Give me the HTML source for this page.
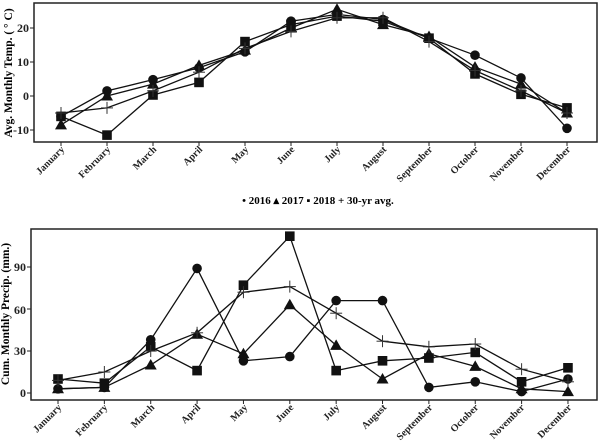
<!DOCTYPE html>
<html><head><meta charset="utf-8"><style>
html,body{margin:0;padding:0;background:#fff;}
svg{display:block;font-family:"Liberation Serif",serif;font-weight:bold;}
</style></head><body>
<svg id="s" width="600" height="447" viewBox="0 0 600 447" xmlns="http://www.w3.org/2000/svg">
<rect x="34" y="3" width="563" height="139" fill="none" stroke="#222" stroke-width="1.5"/>
<rect x="31" y="229" width="566" height="171" fill="none" stroke="#222" stroke-width="1.5"/>
<g font-size="12" text-anchor="end" fill="#222">
<text x="29" y="32">20</text><text x="29" y="66">10</text><text x="29" y="100">0</text><text x="29" y="134">-10</text>
<text x="26" y="271">90</text><text x="26" y="314">60</text><text x="26" y="355">30</text><text x="26" y="397">0</text>
</g>
<text transform="translate(12,73) rotate(-90)" font-size="11.5" text-anchor="middle">Avg. Monthly Temp. ( ° C)</text>
<text transform="translate(9,314) rotate(-90)" font-size="11.5" text-anchor="middle">Cum. Monthly Precip. (mm.)</text>
<g font-size="10" text-anchor="end" fill="#222">
<text transform="translate(65,150) rotate(-45)">January</text>
<text transform="translate(111,150) rotate(-45)">February</text>
<text transform="translate(157,150) rotate(-45)">March</text>
<text transform="translate(203,150) rotate(-45)">April</text>
<text transform="translate(249,150) rotate(-45)">May</text>
<text transform="translate(295,150) rotate(-45)">June</text>
<text transform="translate(341,150) rotate(-45)">July</text>
<text transform="translate(387,150) rotate(-45)">August</text>
<text transform="translate(433,150) rotate(-45)">September</text>
<text transform="translate(479,150) rotate(-45)">October</text>
<text transform="translate(525,150) rotate(-45)">November</text>
<text transform="translate(571,150) rotate(-45)">December</text>
<text transform="translate(62,408) rotate(-45)">January</text>
<text transform="translate(108,408) rotate(-45)">February</text>
<text transform="translate(155,408) rotate(-45)">March</text>
<text transform="translate(201,408) rotate(-45)">April</text>
<text transform="translate(248,408) rotate(-45)">May</text>
<text transform="translate(294,408) rotate(-45)">June</text>
<text transform="translate(340,408) rotate(-45)">July</text>
<text transform="translate(387,408) rotate(-45)">August</text>
<text transform="translate(433,408) rotate(-45)">September</text>
<text transform="translate(479,408) rotate(-45)">October</text>
<text transform="translate(525,408) rotate(-45)">November</text>
<text transform="translate(572,408) rotate(-45)">December</text>
</g>
<text x="318" y="204" font-size="11" text-anchor="middle">• 2016 ▴ 2017 ▪ 2018 + 30-yr avg.</text>
<g id="g"></g>
</svg>
<script>
var g=document.getElementById('g'),NS='http://www.w3.org/2000/svg';
function el(t,a){var e=document.createElementNS(NS,t);for(var k in a)e.setAttribute(k,a[k]);g.appendChild(e);return e;}
function series(xs,yf,d,m){
 var pts=d.map(function(v,i){return [xs[i],yf(v)];});
 el('polyline',{points:pts.map(function(p){return p.join(',')}).join(' '),fill:'none',stroke:'#111','stroke-width':1.3});
 pts.forEach(function(p){var x=p[0],y=p[1];
  if(m=='c')el('circle',{cx:x,cy:y,r:4.8,fill:'#111'});
  if(m=='t')el('polygon',{points:(x)+','+(y-6)+' '+(x-6)+','+(y+4.5)+' '+(x+6)+','+(y+4.5),fill:'#111'});
  if(m=='s')el('rect',{x:x-4.8,y:y-4.8,width:9.6,height:9.6,fill:'#111'});
  if(m=='p'){el('line',{x1:x-6,y1:y,x2:x+6,y2:y,stroke:'#333','stroke-width':1});el('line',{x1:x,y1:y-6,x2:x,y2:y+6,stroke:'#333','stroke-width':1});}
 });
}
var xt=[],xb=[];for(var i=0;i<12;i++){xt.push(61+46*i);xb.push(58+46.36*i);
 el('line',{x1:xt[i],y1:142,x2:xt[i],y2:146,stroke:'#222'});el('line',{x1:xb[i],y1:400,x2:xb[i],y2:404,stroke:'#222'});}
[28,62,96,130].forEach(function(y){el('line',{x1:30,y1:y,x2:34,y2:y,stroke:'#222'});});
[267,309,351,393].forEach(function(y){el('line',{x1:27,y1:y,x2:31,y2:y,stroke:'#222'});});
var yt=function(v){return 96-3.4*v;},yb=function(v){return 393-1.4*v;};
series(xt,yt,[-6,1.5,4.8,8.3,13,22,24,22.5,17,12,5.3,-9.5],'c');
series(xt,yt,[-8.5,0,3.5,9,13.5,20,25.5,21,17.5,8.5,3.5,-5],'t');
series(xt,yt,[-6,-11.5,0.3,4,16,21,23.5,22,17,6.5,0.5,-3.5],'s');
series(xt,yt,[-5,-3.5,1.5,7,14,19,23,23,16,7.5,1.5,-5],'p');
series(xb,yb,[3,4,38,89,23,26,66,66,4,8,1,10],'c');
series(xb,yb,[3,4,20,42,28,63,34,10,28,19,3,1],'t');
series(xb,yb,[10,7,33,16,77,112,16,23,25,29,8,18],'s');
series(xb,yb,[9,15,30,43,72,76,57,37,33,35,17,8],'p');
</script>
</body></html>
